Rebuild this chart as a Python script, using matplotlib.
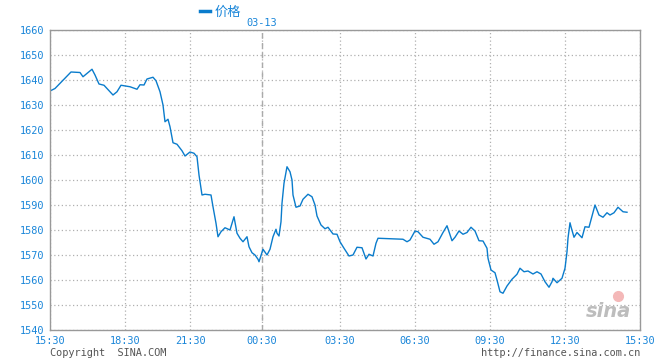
import matplotlib
matplotlib.use("Agg")
import matplotlib.pyplot as plt

# ---- data ----
# x: position along the session time axis (chart minute-index units), y: price
x_pos = [0, 5, 21, 30, 33, 42, 45, 49, 54, 63,
         67, 71, 80, 87, 90, 94, 97, 103, 106, 110,
         113, 115, 118, 120, 123, 127, 132, 135, 140, 144,
         147, 149, 152, 155, 161, 163, 166, 168, 171, 175,
         180, 184, 187, 190, 193, 197, 199, 202, 205, 208,
         209, 213, 217, 220, 223, 226, 227, 229, 231, 232,
         234, 237, 240, 242, 243, 246, 250, 253, 258, 262,
         265, 267, 271, 275, 278, 283, 287, 290, 294, 299,
         303, 307, 312, 316, 319, 323, 326, 328, 353, 357,
         360, 365, 368, 373, 380, 384, 388, 393, 397, 402,
         405, 409, 413, 417, 421, 425, 429, 433, 437, 438,
         441, 445, 447, 450, 453, 457, 462, 467, 470, 474,
         478, 483, 487, 491, 495, 499, 502, 503, 507, 512,
         515, 517, 518, 520, 521, 524, 527, 532, 535, 539,
         542, 545, 549, 553, 557, 560, 564, 568, 573, 577]
price = [1635.6, 1636.6, 1643.2, 1643.0, 1641.3, 1644.3, 1642.0, 1638.4, 1637.9, 1634.0,
         1635.3, 1637.9, 1637.3, 1636.3, 1638.1, 1638.0, 1640.4, 1641.1, 1639.7, 1635.3,
         1630.0, 1623.3, 1624.3, 1621.3, 1614.9, 1614.3, 1611.7, 1609.6, 1611.2, 1610.7,
         1609.3, 1602.0, 1594.0, 1594.3, 1594.0, 1589.3, 1582.7, 1577.3, 1579.3, 1580.9,
         1580.0, 1585.3, 1578.7, 1576.7, 1575.3, 1577.3, 1573.3, 1570.9, 1570.0, 1568.3,
         1567.3, 1572.3, 1570.0, 1572.3, 1577.3, 1580.3, 1578.7, 1577.6, 1583.3, 1590.7,
         1598.7, 1605.3, 1603.3, 1600.0, 1594.0, 1589.1, 1589.6, 1592.3, 1594.3, 1593.3,
         1590.0, 1585.6, 1582.0, 1580.5, 1581.1, 1578.4, 1578.3, 1575.3, 1572.7, 1569.6,
         1570.0, 1573.1, 1572.9, 1568.4, 1570.3, 1569.6, 1574.7, 1576.7, 1576.3, 1575.3,
         1576.0, 1579.6, 1579.3, 1577.1, 1576.3, 1574.3, 1575.3, 1579.0, 1581.7, 1575.7,
         1577.1, 1579.6, 1578.3, 1579.0, 1581.1, 1579.6, 1575.7, 1575.6, 1572.7, 1568.7,
         1564.0, 1562.9, 1560.0, 1555.3, 1554.7, 1557.6, 1560.3, 1562.3, 1564.7, 1563.3,
         1563.6, 1562.4, 1563.3, 1562.4, 1559.3, 1557.1, 1559.3, 1560.7, 1558.9, 1560.7,
         1564.7, 1571.3, 1576.7, 1582.9, 1581.3, 1577.1, 1579.0, 1576.9, 1581.3, 1581.1,
         1585.6, 1590.0, 1586.0, 1585.1, 1586.9, 1586.0, 1586.9, 1589.1, 1587.3, 1587.1]

tick_pos = [0, 75, 140, 212, 290, 365, 440, 515, 590]
tick_labels = ["15:30", "18:30", "21:30", "00:30", "03:30", "06:30", "09:30", "12:30", "15:30"]
y_ticks = [1540, 1550, 1560, 1570, 1580, 1590, 1600, 1610, 1620, 1630, 1640, 1650, 1660]
date_label = "03-13"
series_name = "价格"

# ---- style ----
BLUE = "#0a7ccc"
LABEL_BLUE = "#1a86d9"
GRID = "#b0b0b0"
SPINE = "#999999"
MONO = "DejaVu Sans Mono"

fig = plt.figure(figsize=(6.6, 3.6), dpi=100)
ax = fig.add_axes([50 / 660, 30 / 360, 590 / 660, 300 / 360])

ax.plot(x_pos, price, color=BLUE, lw=1.0)
ax.set_xlim(tick_pos[0], tick_pos[-1])
ax.set_ylim(y_ticks[0], y_ticks[-1])

ax.set_xticks(tick_pos)
ax.set_xticklabels(tick_labels)
ax.set_yticks(y_ticks)
ax.tick_params(length=0, labelsize=7.4, labelcolor=LABEL_BLUE, pad=4)
for lab in ax.get_xticklabels() + ax.get_yticklabels():
    lab.set_family(MONO)

ax.grid(True, color=GRID, linestyle=(0, (1, 2)), lw=0.9)
ax.set_axisbelow(True)
for s in ax.spines.values():
    s.set_color(SPINE)
    s.set_linewidth(1.0)

# date divider
ax.axvline(tick_pos[3], color="#aaaaaa", linestyle=(0, (4, 3)), lw=1.0, zorder=1)

# legend & date
fig.lines.append(plt.Line2D([200 / 660, 210 / 660], [1 - 11 / 360] * 2, color=BLUE, lw=2.5,
                            transform=fig.transFigure))
fig.text(215 / 660, 1 - 12 / 360, series_name, color=LABEL_BLUE, fontsize=9.5,
         family=["Noto Sans CJK SC", "DejaVu Sans"], va="center", ha="left")
fig.text(246 / 660, 1 - 23 / 360, date_label, color=LABEL_BLUE, fontsize=7.4,
         family=MONO, va="center", ha="left")

# footer
fig.text(50 / 660, 1 - 353 / 360, "Copyright  SINA.COM", color="#555555", fontsize=7.4,
         family=MONO, va="center", ha="left")
fig.text(640 / 660, 1 - 353 / 360, "http://finance.sina.com.cn", color="#555555", fontsize=7.4,
         family=MONO, va="center", ha="right")

# watermark: pink "eye" drawn as a marker, grey "sina" word
ax.plot([0.963], [0.115], transform=ax.transAxes, marker="o", markersize=7,
        color="#f4b8b8", linestyle="none", zorder=0)
ax.text(0.985, 0.03, "sina", transform=ax.transAxes, color="#bdbdbd", fontsize=14,
        fontstyle="italic", fontweight="bold", ha="right", va="bottom", zorder=0)

fig.savefig("out.png", dpi=100)
